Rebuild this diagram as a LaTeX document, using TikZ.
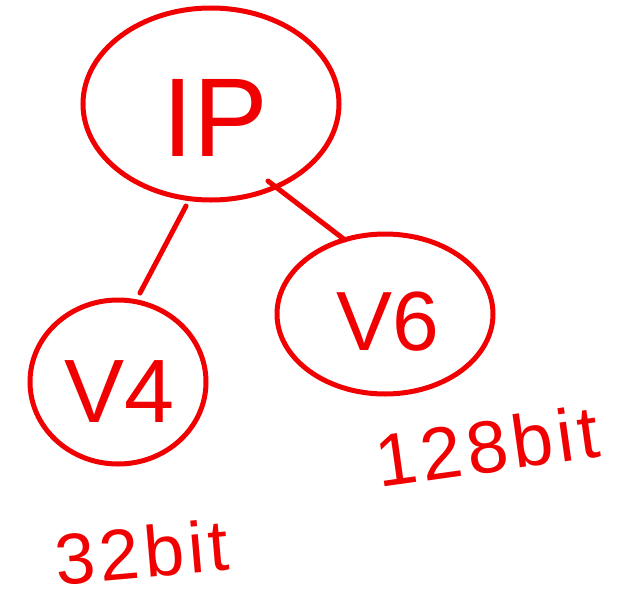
\documentclass[tikz,border=0pt]{standalone}
\usepackage{fontspec}
\setmainfont{Liberation Sans}
\definecolor{pen}{RGB}{240,0,0}
\begin{document}
\begin{tikzpicture}[x=1pt,y=-1pt,
  link/.style={draw=pen,line width=5pt,line cap=round},
  hand/.style={text=pen,inner sep=0pt}]
\useasboundingbox (0,0) rectangle (621,613);
\draw[pen,line width=5pt] (211,104) ellipse [x radius=128,y radius=96];
\node[hand,font=\fontsize{112}{112}\selectfont] (ip) at (215,118) {IP};
\coordinate (ipa) at (186,206);
\coordinate (ipb) at (268,181);
\draw[pen,line width=5pt] (118,382) ellipse [x radius=88,y radius=82];
\node[hand,font=\fontsize{90}{90}\selectfont] (v4) at (120,392) {V4};
\coordinate (v4t) at (140,293);
\draw[pen,line width=5pt] (385,314) ellipse [x radius=108,y radius=80];
\node[hand,font=\fontsize{84}{84}\selectfont] (v6) at (388,322) {V6};
\coordinate (v6t) at (345,240);
\draw[link] (ipa) -- (v4t);
\draw[link] (ipb) -- (v6t);
\node[hand,font=\fontsize{74}{74}\selectfont\addfontfeatures{LetterSpace=6},rotate=8] (b128) at (487,446) {128bit};
\node[hand,font=\fontsize{72}{72}\selectfont\addfontfeatures{LetterSpace=6},rotate=5] (b32) at (142,552) {32bit};
\end{tikzpicture}
\end{document}
